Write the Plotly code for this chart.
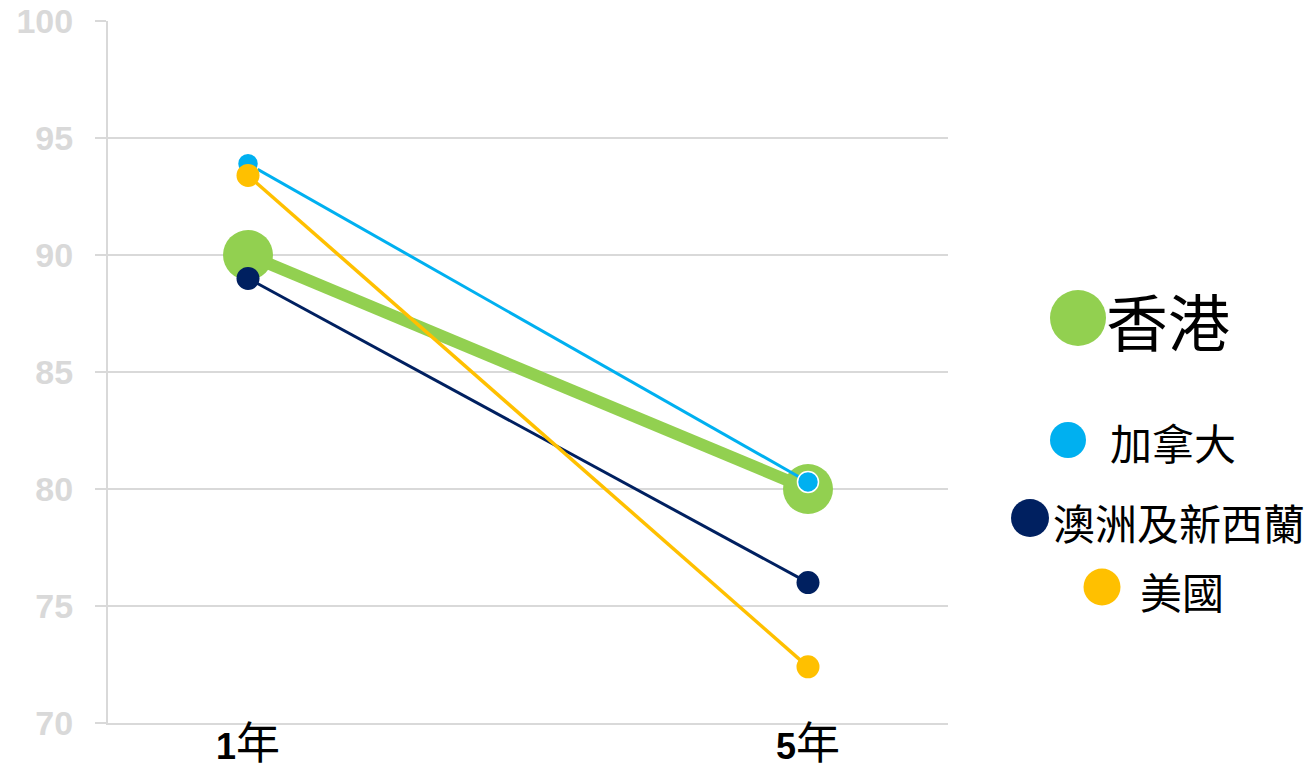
import plotly.graph_objects as go

# ---- data ----
categories = ["1年", "5年"]
tick_labels = ["<b>1</b><span style='font-size:44px'>年</span>",
               "<b>5</b><span style='font-size:44px'>年</span>"]
series_names = ["香港", "加拿大", "澳洲及新西蘭", "美國"]
hk_values = [90.0, 80.0]
canada_values = [93.9, 80.3]
aus_nz_values = [89.0, 76.0]
usa_values = [93.4, 72.4]
y_ticks = [70, 75, 80, 85, 90, 95, 100]

# ---- styles ----
colors = ["#92D050", "#00B0F0", "#002060", "#FFC000"]
line_widths = [12, 3, 3, 3.5]
marker_sizes = [50, 21, 23, 23]
marker_lines = [dict(width=0), dict(width=1.5, color="white"), dict(width=0), dict(width=0)]
values = [hk_values, canada_values, aus_nz_values, usa_values]

# page body has an 8px margin; figure coords = screen coords - 8
OFF = 8
W, H = 1314 - 2 * OFF, 775 - 2 * OFF
L, R, T, B = 108 - OFF, 948 - OFF, 21 - OFF, 723 - OFF
CJK = "Noto Sans CJK TC, Noto Sans CJK SC, sans-serif"
LAT = "Liberation Sans, Arial, sans-serif"

fig = go.Figure()
for name, vals, c, lw, ms, ml in zip(series_names, values, colors, line_widths, marker_sizes, marker_lines):
    fig.add_trace(go.Scatter(
        x=categories, y=vals, name=name, mode="lines+markers",
        line=dict(color=c, width=lw),
        marker=dict(color=c, size=ms, line=ml),
        showlegend=False,
    ))

def px_x(px):
    return (px - OFF - L) / (R - L)

def px_y(py):
    return (B - (py - OFF)) / (B - T)

# custom legend (screen positions in pixels)
legend_pos = [
    # circle cx, cy, diameter, text left, text cy, font size
    (1078, 318, 56, 1104, 320, 62),
    (1068, 440, 36, 1108, 441, 42),
    (1030, 518, 38, 1051, 521, 42),
    (1102, 587, 37, 1138, 590, 42),
]
shapes = []
annotations = []
for name, c, (cx, cy, d, tx, ty, fs) in zip(series_names, colors, legend_pos):
    shapes.append(dict(
        type="circle", xref="paper", yref="paper",
        xsizemode="pixel", ysizemode="pixel",
        xanchor=px_x(cx), yanchor=px_y(cy),
        x0=-d / 2, x1=d / 2, y0=-d / 2, y1=d / 2,
        fillcolor=c, line=dict(width=0), layer="above",
    ))
    annotations.append(dict(
        xref="paper", yref="paper", x=px_x(tx), y=px_y(ty),
        xanchor="left", yanchor="middle", showarrow=False,
        text=name, font=dict(family=CJK, size=fs, color="black"),
    ))

fig.update_layout(
    width=W, height=H,
    margin=dict(l=L, r=W - R, t=T, b=H - B, pad=0),
    plot_bgcolor="white", paper_bgcolor="white",
    shapes=shapes, annotations=annotations,
    xaxis=dict(
        type="category", range=[-0.25, 1.25], automargin=False,
        tickvals=categories, ticktext=tick_labels,
        showgrid=False, zeroline=False,
        showline=True, linecolor="#D9D9D9", linewidth=2,
        ticks="", tickfont=dict(family=LAT + ", " + CJK, size=36, color="black"),
        ticklabelstandoff=-9, ticklabeloverflow="allow",
    ),
    yaxis=dict(
        range=[70, 100], tickvals=y_ticks, automargin=False,
        showgrid=True, gridcolor="#D9D9D9", gridwidth=2,
        zeroline=False, showline=True, linecolor="#D9D9D9", linewidth=2,
        ticks="outside", ticklen=11, tickwidth=2, tickcolor="#D9D9D9",
        tickfont=dict(family=LAT, size=34, color="#D9D9D9", weight="bold"),
        ticklabelstandoff=15, ticklabeloverflow="allow",
    ),
)

fig.write_html("out.html")
